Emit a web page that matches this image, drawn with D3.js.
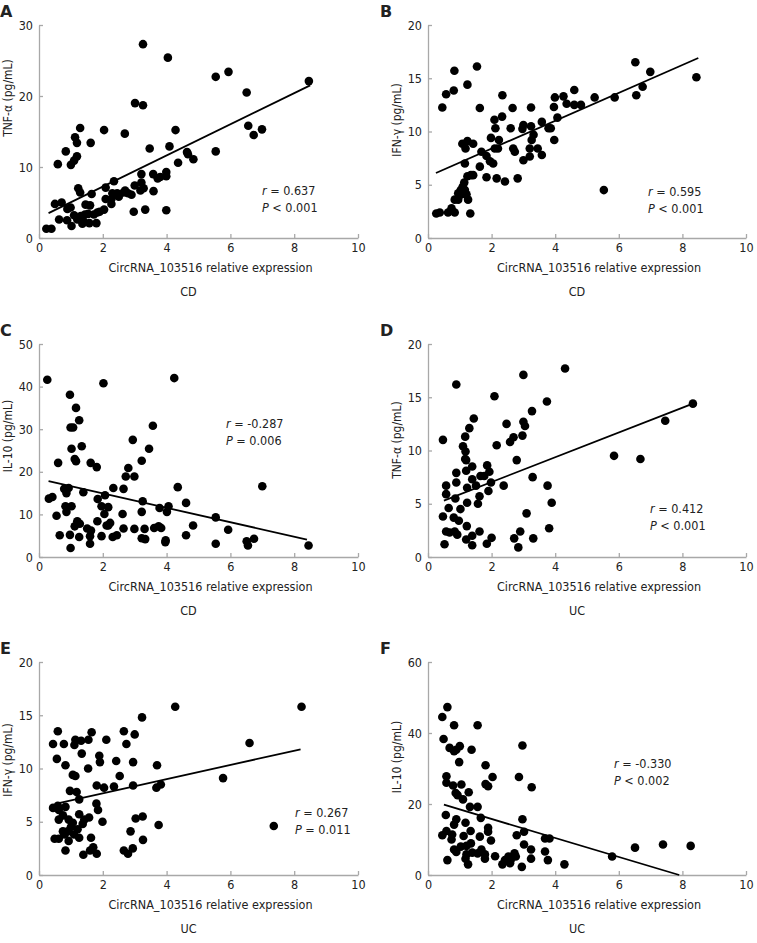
<!DOCTYPE html>
<html>
<head>
<meta charset="utf-8">
<script src="https://cdn.jsdelivr.net/npm/d3@7"></script>
<style>
  html, body { margin: 0; padding: 0; background: #fff; }
  svg { display: block; }
  text { font-family: "DejaVu Sans Condensed", "DejaVu Sans", sans-serif; fill: #222; }
</style>
</head>
<body>
<svg id="chart" width="757" height="943"></svg>
<script>
// ---------------- DATA ----------------
const xTicks = [0, 2, 4, 6, 8, 10];
const xLabel = "CircRNA_103516 relative expression";
const panelLetters = ["A", "B", "C", "D", "E", "F"];
const groupLabels = ["CD", "CD", "CD", "UC", "UC", "UC"];
const yLabels = ["TNF-α (pg/mL)", "IFN-γ (pg/mL)", "IL-10 (pg/mL)", "TNF-α (pg/mL)", "IFN-γ (pg/mL)", "IL-10 (pg/mL)"];
const yMaxes = [30, 20, 50, 20, 20, 60];
const yTicksA = [0, 10, 20, 30];
const yTicksB = [0, 5, 10, 15, 20];
const yTicksC = [0, 10, 20, 30, 40, 50];
const yTicksD = [0, 5, 10, 15, 20];
const yTicksE = [0, 5, 10, 15, 20];
const yTicksF = [0, 20, 40, 60];
const rLabels = ["0.637", "0.595", "-0.287", "0.412", "0.267", "-0.330"];
const pLabels = ["< 0.001", "< 0.001", "= 0.006", "< 0.001", "= 0.011", "< 0.002"];
// regression lines: [x1, y1, x2, y2]
const fitA = [0.3, 3.5, 8.5, 21.5];
const fitB = [0.25, 6.1, 8.5, 16.9];
const fitC = [0.3, 17.8, 8.4, 4.1];
const fitD = [0.5, 5.3, 8.25, 14.3];
const fitE = [0.55, 6.7, 8.2, 11.8];
const fitF = [0.5, 19.8, 7.9, 0];

const pointsA = [
  [3.26,27.3],[4.04,25.4],[5.54,22.7],[5.94,23.4],[8.46,22.1],[6.51,20.5],[3.01,19.0],[3.26,18.7],
  [6.56,15.8],[6.73,14.5],[6.99,15.3],[5.54,12.2],[1.29,15.5],[1.13,14.2],[1.19,13.4],[1.19,11.5],
  [1.1,10.9],[1.0,10.3],[0.84,12.2],[0.59,10.4],[1.62,13.4],[2.04,15.2],[2.69,14.7],[4.28,15.2],
  [3.47,12.6],[4.09,12.9],[4.64,12.1],[4.36,10.6],[4.84,11.1],[4.67,11.8],[3.21,9.0],[3.58,9.0],
  [3.8,8.6],[3.72,8.4],[3.99,9.3],[3.99,8.7],[3.0,7.4],[3.21,7.8],[3.28,7.0],[3.18,6.7],[3.59,6.6],
  [2.97,3.7],[3.33,4.0],[3.99,3.9],[2.35,8.0],[2.09,7.1],[1.23,7.0],[1.29,6.4],[1.65,6.2],[2.09,5.5],
  [2.27,5.5],[2.5,5.8],[2.45,6.3],[2.3,6.3],[2.7,6.7],[2.79,6.3],[2.65,6.4],[2.9,6.1],[2.27,4.8],
  [2.04,4.0],[1.9,3.7],[0.5,4.8],[0.71,5.0],[0.89,4.1],[0.99,4.3],[0.63,2.6],[0.88,2.5],[1.02,1.7],
  [1.1,3.2],[1.31,3.1],[1.46,4.7],[1.6,4.6],[1.44,3.3],[1.54,3.4],[1.72,3.3],[1.36,2.0],[1.58,2.1],
  [1.8,2.1],[1.83,3.6],[0.23,1.3],[0.39,1.3],[1.41,2.3],[1.2,2.6]
];
const pointsB = [
  [0.45,12.25],[0.57,13.5],[0.81,13.85],[0.83,15.7],[1.24,14.4],[1.54,16.1],[1.63,12.2],[1.08,8.85],
  [1.18,8.4],[1.24,9.1],[1.42,8.85],[1.16,7.0],[1.68,8.1],[1.63,6.7],[1.95,7.2],[1.84,7.7],[2.05,7.0],
  [1.98,9.4],[2.1,8.4],[2.2,8.4],[2.09,11.1],[2.12,10.3],[2.23,9.2],[2.33,11.4],[2.34,13.4],[2.6,10.3],
  [2.66,12.2],[2.68,8.4],[2.73,8.1],[3.0,10.6],[2.97,10.25],[3.0,7.3],[3.2,8.4],[3.24,12.25],[3.24,10.5],
  [3.26,9.2],[3.32,9.7],[3.2,7.65],[3.45,8.4],[3.58,7.8],[3.58,10.9],[3.79,10.3],[3.86,10.3],[3.97,9.2],
  [3.96,12.3],[3.99,13.2],[4.07,11.3],[4.26,13.3],[4.36,12.6],[4.6,13.9],[4.6,12.5],[4.81,12.5],
  [5.24,13.2],[5.53,4.5],[5.87,13.2],[6.52,16.5],[6.55,13.4],[6.75,14.2],[6.99,15.6],[8.44,15.1],
  [2.16,5.6],[2.42,5.3],[2.82,5.6],[1.84,5.7],[0.26,2.3],[0.37,2.4],[0.63,2.4],[0.84,2.4],[0.74,2.8],
  [0.95,3.6],[1.05,4.1],[0.95,4.2],[1.09,4.8],[1.14,5.2],[1.24,5.8],[1.35,5.9],[1.42,5.9],[1.21,4.1],
  [1.26,3.6],[1.33,2.3],[0.84,3.6],[1.03,4.5],[1.16,4.5]
];
const pointsC = [
  [0.26,41.6],[2.02,40.8],[4.24,42.0],[0.97,38.1],[1.16,35.0],[1.26,32.1],[0.99,30.4],[1.07,30.4],
  [1.02,25.4],[1.34,26.0],[1.12,23.0],[1.16,22.5],[0.6,22.1],[1.62,22.1],[1.81,21.1],[3.57,30.8],
  [2.94,27.5],[3.45,25.4],[3.22,22.6],[2.8,20.9],[2.72,18.9],[2.99,18.9],[4.35,16.4],[7.0,16.6],
  [2.33,16.2],[2.65,16.0],[2.07,14.5],[1.84,13.6],[0.31,13.7],[0.42,14.1],[0.79,16.0],[0.86,15.0],
  [0.93,16.2],[1.39,15.2],[1.96,11.9],[2.17,11.7],[2.05,10.1],[0.55,9.7],[0.83,11.9],[0.86,10.6],
  [1.02,11.9],[3.25,13.1],[3.22,10.6],[3.78,11.5],[4.06,11.9],[4.01,10.6],[4.61,12.7],[5.54,9.3],
  [5.93,6.4],[4.83,7.4],[4.61,5.1],[1.2,8.4],[1.28,7.8],[1.12,7.2],[1.51,6.7],[1.63,6.2],[1.83,8.4],
  [2.17,7.4],[2.12,7.4],[2.23,8.0],[2.62,10.1],[2.65,6.7],[2.99,6.6],[3.31,6.6],[3.22,4.4],[3.33,4.2],
  [3.61,6.8],[3.75,7.2],[3.83,6.8],[3.96,3.5],[3.97,3.9],[0.65,5.1],[0.97,5.2],[1.26,4.7],[0.99,2.1],
  [1.6,3.1],[1.96,4.9],[2.31,4.7],[2.44,5.1],[5.54,3.1],[6.51,3.7],[6.55,2.7],[6.74,4.3],[8.45,2.7],
  [1.6,4.9]
];
const pointsD = [
  [0.89,16.2],[3.0,17.1],[4.31,17.7],[2.09,15.1],[3.74,14.6],[8.33,14.4],[7.46,12.8],[5.85,9.5],
  [6.68,9.2],[0.47,11.0],[1.44,13.0],[1.3,12.1],[1.17,11.3],[1.1,10.4],[1.18,9.9],[1.17,9.2],[1.2,9.1],
  [2.47,12.5],[3.0,12.7],[3.05,12.3],[2.97,11.4],[3.27,13.7],[2.69,11.25],[2.58,10.8],[2.16,10.5],
  [2.79,9.1],[1.86,8.6],[1.93,8.0],[1.39,8.5],[0.89,7.9],[3.29,7.5],[3.76,6.7],[0.89,7.0],[0.57,6.7],
  [0.57,5.9],[1.2,8.1],[1.39,7.3],[1.65,7.6],[1.77,7.6],[1.98,7.0],[1.51,6.7],[1.23,6.5],[1.9,6.2],
  [2.38,6.7],[1.23,5.1],[1.57,5.0],[1.62,5.7],[0.86,5.5],[0.65,4.6],[1.02,4.5],[0.47,3.8],[0.81,3.7],
  [0.97,3.4],[0.84,2.4],[0.68,2.3],[0.92,2.1],[0.57,2.4],[1.22,2.9],[1.39,2.0],[1.2,1.65],[0.52,1.2],
  [1.39,1.1],[1.62,2.4],[1.85,1.25],[2.0,1.8],[3.1,4.1],[3.89,5.1],[3.81,2.7],[2.9,2.4],[2.71,1.75],
  [2.84,0.9],[3.31,1.75]
];
const pointsE = [
  [4.27,15.8],[8.23,15.8],[3.23,14.8],[6.6,12.4],[5.77,9.1],[7.36,4.6],[0.59,13.5],[0.44,12.3],
  [0.78,12.3],[1.14,12.7],[1.11,12.2],[1.32,12.6],[1.55,12.7],[1.65,13.4],[2.11,12.7],[2.66,13.5],
  [3.0,13.2],[2.74,12.3],[0.56,10.9],[1.34,11.4],[0.83,10.3],[1.54,10.0],[1.89,11.2],[1.91,10.6],
  [2.42,10.7],[2.95,10.6],[3.7,10.3],[1.06,9.4],[1.14,9.3],[2.53,9.3],[1.81,8.4],[2.04,8.2],[2.35,8.3],
  [2.95,8.4],[3.68,8.2],[3.82,8.5],[0.97,7.9],[1.18,7.8],[1.26,7.1],[1.8,6.7],[1.85,6.1],[0.59,6.5],
  [0.44,6.3],[0.83,6.4],[1.26,5.7],[1.57,5.4],[1.99,5.0],[3.03,5.3],[3.25,5.5],[3.75,4.7],[2.87,4.1],
  [3.26,3.3],[2.66,2.3],[2.94,2.5],[2.79,2.0],[1.39,1.9],[1.6,2.3],[1.7,2.6],[1.81,2.0],[1.63,3.5],
  [0.83,2.3],[0.62,6.1],[0.75,5.6],[0.62,5.2],[0.93,5.2],[0.49,3.4],[0.62,3.4],[0.8,3.8],[0.9,4.1],
  [0.75,4.1],[1.0,4.5],[1.1,3.8],[1.21,4.3],[1.26,3.5],[1.37,4.8],[1.42,5.2],[0.93,3.2],[1.06,4.9]
];
const pointsF = [
  [0.61,47.3],[0.45,44.5],[0.82,42.2],[1.56,42.2],[0.49,38.3],[0.68,35.8],[1.0,36.3],[0.82,34.9],
  [0.89,35.3],[1.37,35.3],[2.97,36.5],[0.98,31.8],[1.81,30.9],[0.58,27.8],[0.58,26.0],[2.86,27.6],
  [2.03,27.6],[3.26,24.7],[1.81,25.6],[1.89,25.0],[0.79,25.2],[1.05,25.5],[1.28,23.3],[0.87,23.1],
  [0.93,22.5],[1.1,21.3],[1.32,19.2],[1.56,19.2],[0.56,16.9],[1.66,16.1],[0.89,15.7],[2.97,15.7],
  [0.82,14.2],[1.18,14.7],[1.89,13.3],[1.89,12.2],[3.02,12.2],[0.45,11.2],[0.58,12.4],[0.76,11.4],
  [1.34,12.4],[1.12,11.0],[1.63,10.8],[1.98,9.7],[2.79,11.2],[0.74,10.0],[3.68,10.3],[3.82,10.3],
  [3.02,8.6],[3.24,7.2],[3.68,6.6],[3.77,4.2],[3.24,4.6],[5.79,5.2],[6.51,7.7],[7.39,8.6],[8.26,8.2],
  [4.29,3.0],[2.95,2.3],[2.72,6.1],[2.53,5.2],[2.42,4.2],[2.34,3.0],[2.58,3.3],[2.11,5.3],[1.79,4.6],
  [1.56,6.1],[1.68,7.2],[1.39,6.3],[1.21,5.8],[1.26,3.0],[1.18,4.6],[1.03,8.0],[0.82,7.2],[0.89,6.5],
  [0.61,4.2],[1.21,8.2],[1.35,8.9],[1.79,5.8],[2.6,4.2],[2.76,5.2]
];

// ---------------- LAYOUT ----------------
const svg = d3.select("#chart");
const colX = [[39, 358], [428, 746]];
const rowY = [[25, 238], [344, 557], [662, 875]];
const allPoints = [pointsA, pointsB, pointsC, pointsD, pointsE, pointsF];
const allFits = [fitA, fitB, fitC, fitD, fitE, fitF];
const allYTicks = [yTicksA, yTicksB, yTicksC, yTicksD, yTicksE, yTicksF];
const yLabelOffset = [73, 95, 92, 96, 98, 95];
const statPos = [[262, 195], [648, 196], [226, 428], [650, 513], [295, 817], [614, 768]];
const letterPos = [[0, 17], [380, 17], [0, 336], [380, 336], [0, 654], [380, 654]];

allPoints.forEach((pts, i) => {
  const col = i % 2, row = Math.floor(i / 2);
  const [x0, x1] = colX[col];
  const [yTop, yBot] = rowY[row];
  const x = d3.scaleLinear().domain([0, 10]).range([x0, x1]);
  const y = d3.scaleLinear().domain([0, yMaxes[i]]).range([yBot, yTop]);
  const g = svg.append("g");

  // axes
  const xa = g.append("g").attr("transform", `translate(0,${yBot})`)
    .call(d3.axisBottom(x).tickValues(xTicks).tickSizeInner(-4).tickSizeOuter(0).tickPadding(5));
  const ya = g.append("g").attr("transform", `translate(${x0},0)`)
    .call(d3.axisLeft(y).tickValues(allYTicks[i]).tickSizeInner(-4).tickSizeOuter(0).tickPadding(6));
  [xa, ya].forEach(a => {
    a.selectAll("path.domain, line").attr("stroke", "#a8a8a8").attr("stroke-width", 1.3);
    a.selectAll("text").attr("fill", "#222").style("font-size", "12.5px")
      .style("font-family", '"DejaVu Sans Condensed", "DejaVu Sans", sans-serif');
  });

  // points
  g.append("g").selectAll("circle").data(pts).join("circle")
    .attr("cx", d => x(d[0])).attr("cy", d => y(d[1])).attr("r", 4.3).attr("fill", "#000");

  // fit line
  const f = allFits[i];
  g.append("line")
    .attr("x1", x(f[0])).attr("y1", y(f[1])).attr("x2", x(f[2])).attr("y2", y(f[3]))
    .attr("stroke", "#000").attr("stroke-width", 1.8);

  // labels
  g.append("text").attr("x", (x0 + x1) / 2 + 12).attr("y", yBot + 34)
    .attr("text-anchor", "middle").style("font-size", "12.5px").text(xLabel);
  g.append("text").attr("x", (x0 + x1) / 2 - 10).attr("y", yBot + 58)
    .attr("text-anchor", "middle").style("font-size", "12.5px").text(groupLabels[i]);
  g.append("text")
    .attr("transform", `translate(${x0 - 27},${yTop + yLabelOffset[i]}) rotate(-90)`)
    .attr("text-anchor", "middle").style("font-size", "12px").text(yLabels[i]);

  const [sx, sy] = statPos[i];
  const t1 = g.append("text").attr("x", sx).attr("y", sy).style("font-size", "12.5px");
  t1.append("tspan").style("font-style", "italic").text("r");
  t1.append("tspan").text(" = " + rLabels[i]);
  const t2 = g.append("text").attr("x", sx).attr("y", sy + 17).style("font-size", "12.5px");
  t2.append("tspan").style("font-style", "italic").text("P");
  t2.append("tspan").text(" " + pLabels[i]);

  g.append("text").attr("x", letterPos[i][0]).attr("y", letterPos[i][1])
    .style("font-size", "16px").style("font-weight", "bold")
    .style("font-family", '"DejaVu Sans", sans-serif').text(panelLetters[i]);
});
</script>
</body>
</html>
